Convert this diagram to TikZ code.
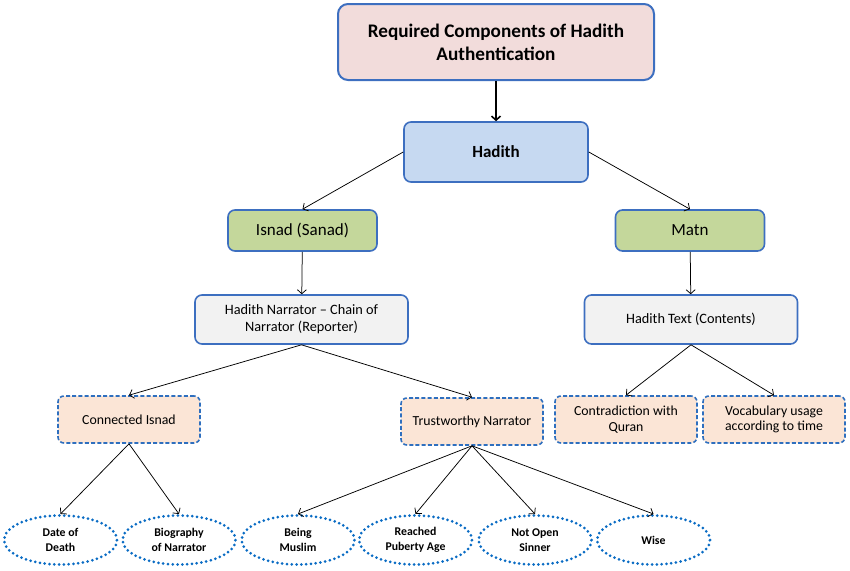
\documentclass[tikz,border=0pt]{standalone}
\usepackage{fontspec}
\setmainfont{Carlito}
\usetikzlibrary{arrows.meta,shapes.geometric}
\definecolor{edgeblue}{HTML}{3D6FC0}
\definecolor{dashblue}{HTML}{2E6FBF}
\definecolor{dotblue}{HTML}{0A6CC4}
\definecolor{pinkfill}{HTML}{F2DCDB}
\definecolor{bluefill}{HTML}{C6D9F1}
\definecolor{greenfill}{HTML}{C4D79B}
\definecolor{greyfill}{HTML}{F2F2F2}
\definecolor{peachfill}{HTML}{FBE5D6}
\begin{document}
\begin{tikzpicture}[x=1pt,y=-1pt,>={Straight Barb[length=4pt,width=9pt]},
  box/.style={draw=edgeblue,line width=1.6pt,rounded corners=7pt,align=center,inner sep=0pt},
  titlebox/.style={box,fill=pinkfill,rounded corners=10pt,line width=2pt,minimum width=316pt,minimum height=76pt,font=\bfseries\fontsize{19.2}{23}\selectfont},
  mainbox/.style={box,fill=bluefill,minimum width=184pt,minimum height=60pt,font=\bfseries\fontsize{17}{20}\selectfont},
  partbox/.style={box,fill=greenfill,minimum width=149pt,minimum height=41pt,font=\fontsize{17}{20}\selectfont},
  infobox/.style={box,fill=greyfill,minimum width=213pt,minimum height=49pt,font=\fontsize{14.3}{17}\selectfont},
  critbox/.style={box,draw=dashblue,fill=peachfill,dash pattern=on 4pt off 2.2pt,rounded corners=6pt,minimum width=142pt,minimum height=47pt,font=\fontsize{13.8}{15.5}\selectfont},
  oval/.style={ellipse,draw=dotblue,line width=3pt,line cap=round,dash pattern=on 0pt off 4.8pt,minimum width=113pt,minimum height=49pt,inner sep=0pt,align=center,font=\bfseries\fontsize{11.8}{14.5}\selectfont},
  link/.style={->,line width=0.75pt}]
\useasboundingbox (0,0) rectangle (850,570);
\node[titlebox] (RC) at (496,42) {Required Components of Hadith\\Authentication};
\node[mainbox] (H) at (496,152) {Hadith};
\node[partbox] (IS) at (302.5,230.5) {Isnad (Sanad)};
\node[partbox] (MT) at (690,230.5) {Matn};
\node[infobox] (HN) at (301.5,319.5) {Hadith Narrator -- Chain of\\Narrator (Reporter)};
\node[infobox] (HT) at (691,319.5) {Hadith Text (Contents)};
\node[critbox] (CI) at (129,419.5) {Connected Isnad};
\node[critbox] (TN) at (472,421.5) {Trustworthy Narrator};
\node[critbox] (CQ) at (626,419.5) {Contradiction with\\Quran};
\node[critbox] (VU) at (774,419.5) {Vocabulary usage\\according to time};
\node[oval] (DD) at (60.5,540) {Date of\\Death};
\node[oval] (BN) at (179,540) {Biography\\of Narrator};
\node[oval] (BM) at (298,540) {Being\\Muslim};
\node[oval] (RP) at (415.5,540) {Reached\\Puberty Age};
\node[oval] (NS) at (535,540) {Not Open\\Sinner};
\node[oval] (W) at (653.5,540) {Wise};
\draw[->,line width=1.6pt] (RC) -- (H);
\draw[link] (H.west) -- (IS.north); \draw[link] (H.east) -- (MT.north);
\draw[link] (IS) -- (HN); \draw[link] (MT) -- (HT);
\draw[link] (HN.south) -- (CI.north); \draw[link] (HN.south) -- (TN.north);
\draw[link] (HT.south) -- (CQ.north); \draw[link] (HT.south) -- (VU.north);
\draw[link] (CI.south) -- (DD.north); \draw[link] (CI.south) -- (BN.north);
\foreach \e in {BM,RP,NS,W} \draw[link] (TN.south) -- (\e.north);
\end{tikzpicture}
\end{document}
